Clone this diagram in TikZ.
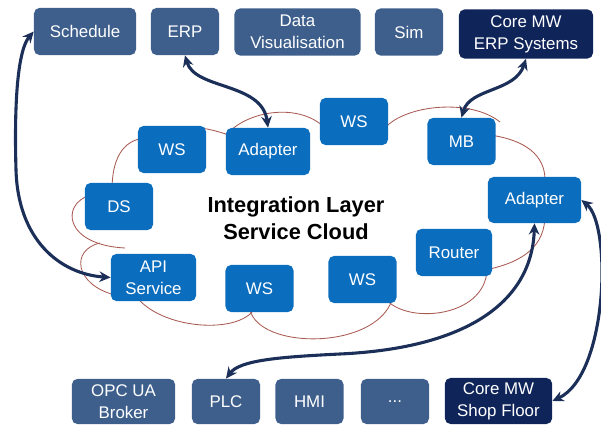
\documentclass[tikz,border=0pt]{standalone}
\usepackage{fontspec}
\setmainfont{Liberation Sans}
\usepackage{tikz}
\usetikzlibrary{arrows.meta}

\definecolor{appblue}{HTML}{3E5F8C}
\definecolor{svcblue}{HTML}{0B6DBD}
\definecolor{coreblue}{HTML}{0F2459}
\definecolor{linknavy}{HTML}{1B2F58}
\definecolor{cloudred}{HTML}{A85A52}

\tikzset{
  box/.style={rounded corners=4pt, text=white, align=center, inner sep=0pt,
    font=\fontsize{12}{15.5}\selectfont, minimum height=1.18cm, minimum width=1.7cm},
  appbox/.style={box, fill=appblue},
  svcbox/.style={box, fill=svcblue},
  corebox/.style={box, fill=coreblue},
  link/.style={draw=linknavy, line width=2.2pt,
    {Stealth[length=8pt,width=7.5pt]}-{Stealth[length=8pt,width=7.5pt]}},
  puff/.style={draw=cloudred, line width=0.6pt}
}

\begin{document}
\begin{tikzpicture}[x=0.025cm,y=-0.025cm]
      \useasboundingbox (0,0) rectangle (601,426);

       % cloud
      \draw[puff] (112,190) .. controls (112,160) and (122,140) .. (145,138);
      \draw[puff] (200,128) .. controls (210,129) and (220,132) .. (235,137);
      \draw[puff] (228,133) .. controls (250,110) and (300,103) .. (325,128);
      \draw[puff] (385,128) .. controls (405,105) and (470,98) .. (500,122);
      \draw[puff] (490,135) .. controls (525,140) and (545,155) .. (545,180);
      \draw[puff] (545,215) .. controls (545,245) and (525,262) .. (485,270);
      \draw[puff] (487,270) .. controls (485,318) and (405,325) .. (385,298);
      \draw[puff] (392,300) .. controls (375,350) and (260,350) .. (250,310);
      \draw[puff] (255,308) .. controls (240,335) and (160,330) .. (135,295);
      \draw[puff] (115,295) .. controls (75,285) and (70,250) .. (100,243);
      \draw[puff] (90,195) .. controls (60,205) and (65,245) .. (125,248);

       % top row
      \node[appbox, minimum width=2.55cm] (sched) at (85,31.5) {Schedule};
      \node[appbox] (erp) at (185,31.5) {ERP};
      \node[appbox, minimum width=3.15cm] (datavis) at (297.5,32) {Data\\Visualisation};
      \node[appbox] (sim) at (409,32) {Sim};
      \node[corebox, minimum width=3.35cm, minimum height=1.23cm] (coreerp) at (526,34) {Core MW\\ERP Systems};

       % services
      \node[svcbox] (ws1) at (172,149.5) {WS};
      \node[svcbox, minimum width=2.1cm] (adapt1) at (268,151.5) {Adapter};
      \node[svcbox] (ws2) at (354,121.5) {WS};
      \node[svcbox] (mb) at (461.5,141.5) {MB};
      \node[svcbox] (ds) at (119,206.5) {DS};
      \node[svcbox, minimum width=2.33cm, minimum height=1.15cm] (adapt2) at (534.5,200) {Adapter};
      \node[svcbox, minimum width=1.9cm] (router) at (454,252.5) {Router};
      \node[svcbox, minimum width=2.13cm] (api) at (153.5,277.5) {API\\Service};
      \node[svcbox] (ws3) at (259.5,288.5) {WS};
      \node[svcbox] (ws4) at (362.5,279.5) {WS};

      \node[font=\bfseries\fontsize{15.5}{19}\selectfont, align=center] (title) at (296,218)
        {Integration Layer\\Service Cloud};

       % bottom row
      \node[appbox, minimum width=2.58cm, minimum height=1.13cm] (opc) at (123.5,401.5) {OPC UA\\Broker};
      \node[appbox, minimum height=1.13cm] (plc) at (226,401.5) {PLC};
      \node[appbox, minimum height=1.13cm] (hmi) at (309.5,401.5) {HMI};
      \node[appbox, minimum height=1.13cm] (dots) at (395,401.5) {...};
      \node[corebox, minimum width=2.68cm, minimum height=1.15cm] (coreshop) at (498.5,401) {Core MW\\Shop Floor};

       % links
      \draw[link] (api.west) .. controls (60,274) and (18,240) .. (16,170)
        .. controls (14,100) and (18,50) .. (sched.west);
      \draw[link] (erp.south) .. controls (195,90) and (262,82) .. (adapt1.north);
      \draw[link] (coreerp.south) .. controls (515,92) and (470,88) .. (mb.north);
      \draw[link] (plc.north) .. controls (240,360) and (280,357) .. (340,354)
        .. controls (470,348) and (532,300) .. (adapt2.south);
      \draw[link] (adapt2.east) .. controls (612,225) and (608,375) .. (coreshop.east);
    \end{tikzpicture}
\end{document}
